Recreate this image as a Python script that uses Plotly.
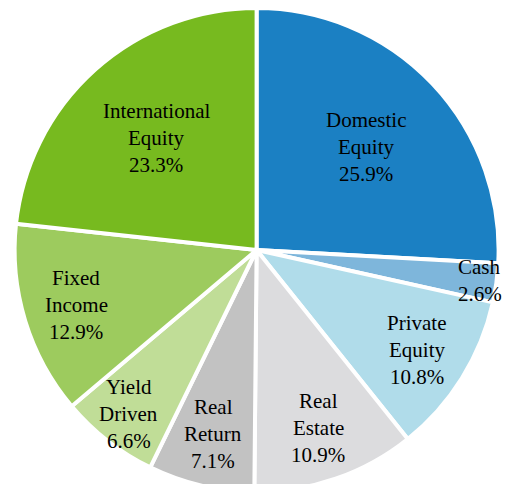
import math
import plotly.graph_objects as go

categories = ["Domestic Equity", "Cash", "Private Equity", "Real Estate",
              "Real Return", "Yield Driven", "Fixed Income", "International Equity"]
label_lines = [["Domestic", "Equity"], ["Cash"], ["Private", "Equity"], ["Real", "Estate"],
               ["Real", "Return"], ["Yield", "Driven"], ["Fixed", "Income"], ["International", "Equity"]]
values = [25.9, 2.6, 10.8, 10.9, 7.1, 6.6, 12.9, 23.3]
colors = ["#1b80c3", "#7eb6db", "#b0dcea", "#dcdcde",
          "#c2c2c2", "#c0dd97", "#9dcb5e", "#77ba1f"]

FONT = "Liberation Serif"
FSIZE = 21
W, H = 511, 484
DOM_X = [0, 0.973]
DOM_Y = [0, 1]

fig = go.Figure(go.Pie(
    labels=categories,
    values=values,
    textinfo="none",
    sort=False,
    direction="clockwise",
    rotation=0,
    marker=dict(colors=colors, line=dict(color="white", width=4)),
    domain=dict(x=DOM_X, y=DOM_Y),
    hoverinfo="label+value",
))

# Labels: one single-line annotation per text line, placed along each slice's bisector
cx = (DOM_X[0] + DOM_X[1]) / 2
cy = (DOM_Y[0] + DOM_Y[1]) / 2
radius_px = min((DOM_X[1] - DOM_X[0]) * W, (DOM_Y[1] - DOM_Y[0]) * H) / 2
line_h = 27
total = sum(values)
cum = 0.0
for lines, v in zip(label_lines, values):
    mid = (cum + v / 2) / total * 2 * math.pi
    cum += v
    if v > 20:
        frac = 0.62
    elif v < 5:
        frac = 0.93
    elif v < 7:
        frac = 0.86
    else:
        frac = 0.78
    r = frac * radius_px
    px = r * math.sin(mid)
    py = r * math.cos(mid)
    all_lines = lines + [f"{v:.1f}%"]
    n = len(all_lines)
    for k, ln in enumerate(all_lines):
        off = ((n - 1) / 2 - k) * line_h
        fig.add_annotation(
            x=cx + px / W, y=cy + (py + off) / H,
            xref="paper", yref="paper", xanchor="center", yanchor="middle",
            text=ln, showarrow=False,
            font=dict(family=FONT, size=FSIZE, color="black"),
        )

fig.update_layout(
    width=W, height=H,
    margin=dict(l=0, r=0, t=0, b=0),
    showlegend=False,
    paper_bgcolor="white",
    font=dict(family=FONT, size=FSIZE, color="black"),
)

fig.write_html("out.html")
